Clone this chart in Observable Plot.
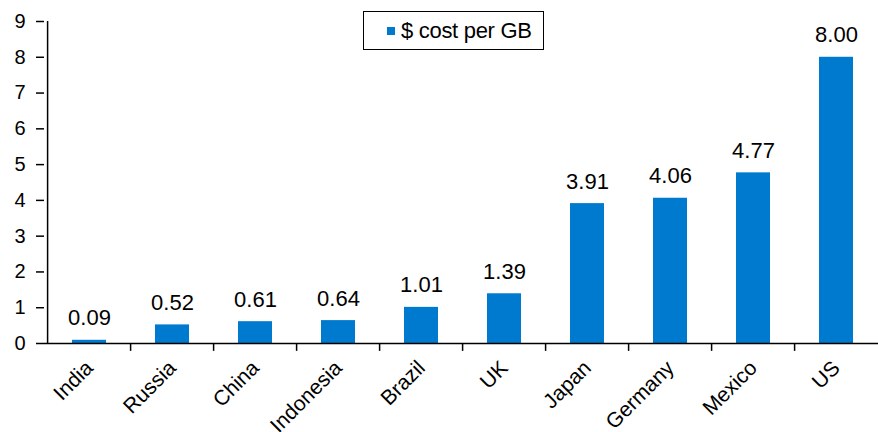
<!DOCTYPE html>
<html>
<head>
<meta charset="utf-8">
<script src="https://cdn.jsdelivr.net/npm/d3@7"></script>
<script src="https://cdn.jsdelivr.net/npm/@observablehq/plot@0.6"></script>
<style>
  html, body { margin: 0; padding: 0; background: #fff; }
  #wrap { position: relative; width: 878px; height: 432px; font-family: "Liberation Sans", Arial, sans-serif; }
  #legend {
    position: absolute; left: 363px; top: 11px; width: 179px; height: 37px;
    border: 1.5px solid #000; background: #fff; box-sizing: content-box;
    display: flex; align-items: center; font-size: 22px; color: #000;
  }
  #legend .sw { width: 8px; height: 8px; background: #007ACF; margin-left: 23px; margin-right: 6px; }
  #legend span { letter-spacing: -0.3px; }
</style>
</head>
<body>
<div id="wrap"></div>
<script>
// Mobile data price by country, US dollars per gigabyte
const countries = ["India", "Russia", "China", "Indonesia", "Brazil", "UK", "Japan", "Germany", "Mexico", "US"];
const costPerGB = [0.09, 0.52, 0.61, 0.64, 1.01, 1.39, 3.91, 4.06, 4.77, 8.00];
const yTicks = [0, 1, 2, 3, 4, 5, 6, 7, 8, 9];
const seriesName = "$ cost per GB";
const barColor = "#007ACF";

const rows = countries.map((c, i) => ({country: c, value: costPerGB[i]}));

const W = 878, H = 432;
const mLeft = 44, mRight = -4, mTop = 21, mBottom = 89;
const step = (W - mRight - mLeft) / countries.length;

const chart = Plot.plot({
  width: W,
  height: H,
  marginLeft: mLeft,
  marginRight: mRight,
  marginTop: mTop,
  marginBottom: mBottom,
  style: {fontFamily: "'Liberation Sans', Arial, sans-serif", fontSize: "21px", color: "#000", background: "#fff"},
  x: {domain: countries, paddingInner: 0.59, paddingOuter: 0.295},
  y: {domain: [0, 9]},
  marks: [
    Plot.barY(rows, {x: "country", y: "value", fill: barColor}),
    Plot.text(rows, {x: "country", y: "value", text: d => d.value.toFixed(2), lineAnchor: "bottom", dy: -15, fontSize: 22, fill: "#000"}),
    // category separator ticks below the baseline
    Plot.ruleX(countries.slice(1), {x: d => d, y1: 0, y2: -0.22, dx: -step / 2, stroke: "#000", strokeWidth: 1.5}),
    // left axis line
    Plot.ruleX([countries[0]], {x: d => d, y1: 0, y2: 9, dx: -step / 2, stroke: "#000", strokeWidth: 1.5}),
    Plot.ruleY([0], {stroke: "#000", strokeWidth: 1.5}),
    Plot.axisY(yTicks, {tickSize: 8, tickPadding: 11, fontSize: 20, label: null, strokeWidth: 1.5}),
    Plot.axisX({tickSize: 0, tickRotate: -45, tickPadding: 21, fontSize: 21, label: null})
  ]
});

const wrap = document.getElementById("wrap");
wrap.appendChild(chart);

const legend = document.createElement("div");
legend.id = "legend";
legend.innerHTML = `<div class="sw"></div><span></span>`;
legend.querySelector("span").textContent = seriesName;
wrap.appendChild(legend);
</script>
</body>
</html>
